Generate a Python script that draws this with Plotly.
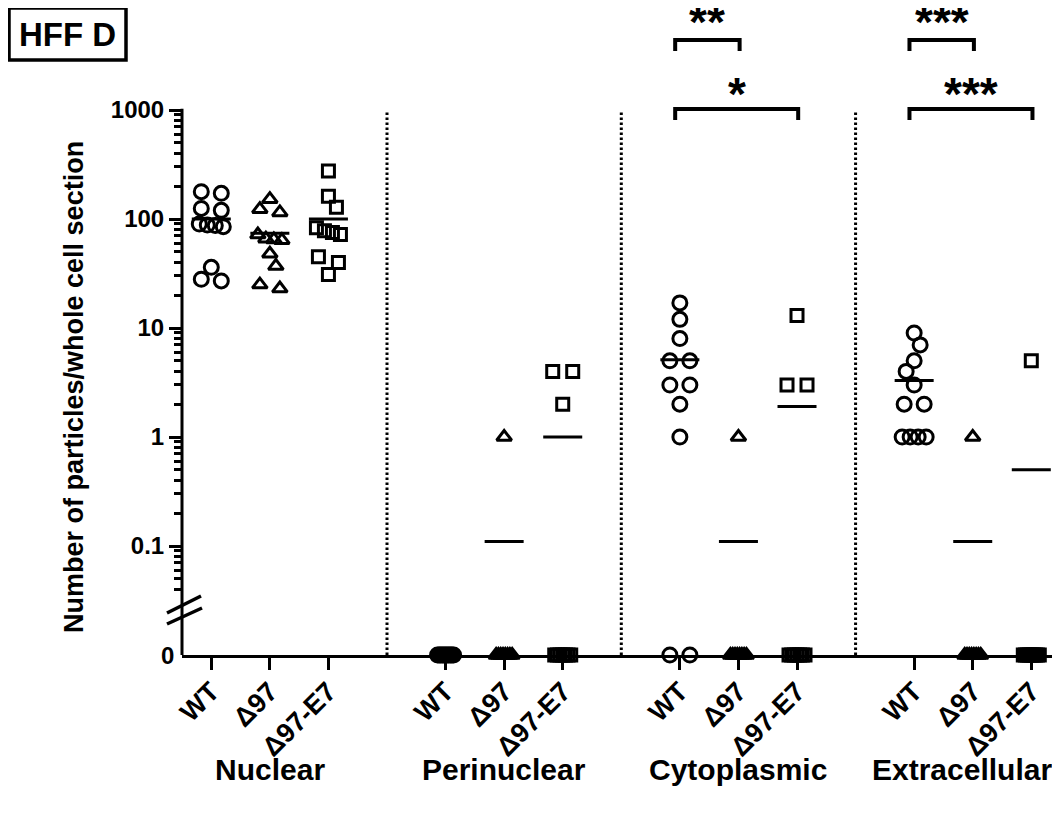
import numpy as np
import plotly.graph_objects as go

# ---------------- data ----------------
compartments = ["Nuclear", "Perinuclear", "Cytoplasmic", "Extracellular"]
strains = ["WT", "Δ97", "Δ97-E7"]

nuclear_wt = [178, 172, 125, 120, 90, 88, 87, 85, 36, 28, 27]
nuclear_d97 = [152, 123, 115, 72, 66, 65, 64, 48, 37, 25, 23]
nuclear_e7 = [275, 162, 128, 83, 78, 75, 72, 45, 40, 31]

peri_wt = [0, 0, 0, 0, 0, 0, 0, 0, 0, 0, 0]
peri_d97 = [1, 0, 0, 0, 0, 0, 0, 0, 0]
peri_e7 = [4, 4, 2, 0, 0, 0, 0, 0, 0, 0]

cyto_wt = [17, 12, 8, 5, 5, 3, 3, 2, 1, 0, 0]
cyto_d97 = [1, 0, 0, 0, 0, 0, 0, 0, 0]
cyto_e7 = [13, 3, 3, 0, 0, 0, 0, 0, 0, 0]

extra_wt = [9, 7, 5, 4, 3, 2, 2, 1, 1, 1, 1]
extra_d97 = [1, 0, 0, 0, 0, 0, 0, 0, 0]
extra_e7 = [5, 0, 0, 0, 0, 0, 0, 0, 0, 0]

mean_nuclear = [100, 74, 100]
mean_peri = [0, 0.11, 1.0]
mean_cyto = [5.1, 0.11, 1.9]
mean_extra = [3.3, 0.11, 0.5]

y_tick_values = [0.1, 1, 10, 100, 1000]
y_tick_labels = ["0.1", "1", "10", "100", "1000"]

# (compartment, strain a, strain b, label, level)
significance = [
    ("Cytoplasmic", "WT", "Δ97", "**", 1),
    ("Cytoplasmic", "WT", "Δ97-E7", "*", 2),
    ("Extracellular", "WT", "Δ97", "***", 1),
    ("Extracellular", "WT", "Δ97-E7", "***", 2),
]

groups = [
    [nuclear_wt, nuclear_d97, nuclear_e7],
    [peri_wt, peri_d97, peri_e7],
    [cyto_wt, cyto_d97, cyto_e7],
    [extra_wt, extra_d97, extra_e7],
]
means = [mean_nuclear, mean_peri, mean_cyto, mean_extra]

# ---------------- layout geometry ----------------
OFF = 8                      # page body margin in the browser
W, H = 1060 - OFF, 816 - OFF
ML = 182 - OFF
PH = 655 - OFF
MB = H - PH
PW = W - ML
XMIN, XMAX = -0.5, 14.49
DEC_PX = 109.0               # pixels per decade
YMIN = -2.0                  # zero drawn below the break
YMAX = 3 + (110 - OFF) / DEC_PX
ZERO_POS = -2.0
XPX = PW / (XMAX - XMIN)
YPX = PH / (YMAX - YMIN)
FONT = "Liberation Sans, Arial, sans-serif"


def ypos(v):
    return np.log10(v) if v > 0 else ZERO_POS


def paper_x(px):
    return (px - OFF - ML) / PW


def paper_y(py):
    return (PH - (py - OFF)) / PH


def data_y(py):
    return YMAX - (py - OFF) / YPX


def ydata_to_paper(y):
    return (y - YMIN) / (YMAX - YMIN)


def xpos(gi, si):
    return 4 * gi + si


def swarm(values, D=13.0, maxshift=14):
    """Beeswarm-like horizontal offsets (in x units)."""
    ys = [ypos(v) for v in values]
    order = sorted(range(len(values)), key=lambda i: -ys[i])
    rows = []
    for i in order:
        if rows and abs(ys[rows[-1][0]] - ys[i]) * YPX < 7:
            rows[-1].append(i)
        else:
            rows.append([i])
    offs = [0.0] * len(values)
    placed = []
    last_sign = -1
    for row in rows:
        n = len(row)
        is_zero = values[row[0]] == 0
        if n == 1:
            base = [0.0]
        elif n == 2:
            base = [-10.0, 10.0]
        else:
            spread = min(8.0 * (n - 1), 16.0 if is_zero else 24.0)
            base = [-spread / 2 + spread * k / (n - 1) for k in range(n)]
        yrow = ys[row[0]] * YPX
        chosen = None
        best = (-1, 0)
        cands = [0]
        for k in range(1, maxshift // 2 + 1):
            cands += [-last_sign * 2 * k, last_sign * 2 * k]
        for sh in cands:
            mind = 1e9
            for b in base:
                for (ppx, ppy) in placed:
                    mind = min(mind, np.hypot(b + sh - ppx, yrow - ppy))
            if mind >= D:
                chosen = sh
                break
            if mind > best[0]:
                best = (mind, sh)
        if chosen is None:
            chosen = best[1]
        if chosen != 0:
            last_sign = 1 if chosen > 0 else -1
        for i, b in zip(row, base):
            offs[i] = (b + chosen) / XPX
            placed.append((b + chosen, yrow))
    return offs


symbols = ["circle-open", "triangle-up-open", "square-open"]
sizes = [14, 13, 12]

fig = go.Figure()

# dotted separators between compartments
sep_x, sep_y = [], []
for gi in range(1, len(compartments)):
    xs = 4 * gi - 1
    sep_x += [xs, xs, None]
    sep_y += [YMIN, np.log10(1000), None]
fig.add_trace(go.Scatter(x=sep_x, y=sep_y, mode="lines",
                         line=dict(color="black", width=3, dash="2.5px,2.5px"),
                         hoverinfo="skip", showlegend=False))

# points
for gi, grp in enumerate(groups):
    for si, vals in enumerate(grp):
        offs = swarm(vals)
        xs = [xpos(gi, si) + o for o in offs]
        ys = [ypos(v) for v in vals]
        fig.add_trace(go.Scatter(
            x=xs, y=ys, mode="markers", cliponaxis=False,
            marker=dict(symbol=symbols[si], size=sizes[si], color="black",
                        line=dict(color="black", width=3)),
            showlegend=False, hoverinfo="skip"))

# mean lines
mx, my = [], []
for gi, m in enumerate(means):
    for si, v in enumerate(m):
        if v > 0:
            c = xpos(gi, si)
            mx += [c - 0.333, c + 0.333, None]
            my += [ypos(v), ypos(v), None]
fig.add_trace(go.Scatter(x=mx, y=my, mode="lines",
                         line=dict(color="black", width=3),
                         hoverinfo="skip", showlegend=False))

shapes = []
annotations = []

# y axis line (with break marks)
shapes.append(dict(type="line", xref="paper", yref="paper",
                   x0=0, x1=0, y0=0, y1=ydata_to_paper(np.log10(1000)) + 0.002,
                   line=dict(color="black", width=3)))
for (x0, y0, x1, y1) in [(167, 613, 201, 596), (167, 624, 202, 608)]:
    shapes.append(dict(type="line", xref="paper", yref="paper",
                       x0=paper_x(x0), y0=paper_y(y0), x1=paper_x(x1), y1=paper_y(y1),
                       line=dict(color="black", width=3.5)))

# significance brackets: (bar pixel row, leg end row, star text-box centre row)
level_px = {1: (40, 51, 22), 2: (109, 120, 94)}
for comp, a, b, lab, lev in significance:
    gi = compartments.index(comp)
    xa = xpos(gi, strains.index(a)) - 0.08
    xb = xpos(gi, strains.index(b)) + 0.02
    pt, pl, ptext = level_px[lev]
    yt, yl, ytext = data_y(pt), data_y(pl), data_y(ptext)
    shapes.append(dict(type="path", xref="x", yref="y",
                       path=f"M {xa},{yl} L {xa},{yt} L {xb},{yt} L {xb},{yl}",
                       line=dict(color="black", width=4)))
    annotations.append(dict(x=(xa + xb) / 2, y=ytext, xref="x", yref="y",
                            text=lab, showarrow=False, yanchor="middle",
                            font=dict(family=FONT, size=46, color="black", weight="bold")))

# group labels
label_size = 30
for gi, comp in enumerate(compartments):
    ann = dict(x=xpos(gi, 1), y=paper_y(769), xref="x", yref="paper",
               text=comp, showarrow=False, yanchor="middle", xanchor="center",
               font=dict(family=FONT, size=label_size, color="black", weight="bold"))
    if gi == len(compartments) - 1:
        ann.update(x=1.0, xref="paper", xanchor="right", xshift=-6)
    annotations.append(ann)

# zero tick label
annotations.append(dict(x=0, y=0, xref="paper", yref="paper", text="0",
                        showarrow=False, xanchor="right", yanchor="middle", xshift=-6,
                        font=dict(family=FONT, size=24, color="black", weight="bold")))

# y-axis title
annotations.append(dict(x=paper_x(74), y=paper_y(387), xref="paper", yref="paper",
                        text="Number of particles/whole cell section", textangle=-90,
                        showarrow=False, xanchor="center", yanchor="middle",
                        font=dict(family=FONT, size=27, color="black", weight="bold")))

# panel label box
shapes.append(dict(type="rect", xref="paper", yref="paper",
                   x0=paper_x(9), x1=paper_x(126), y0=paper_y(60), y1=paper_y(8),
                   line=dict(color="black", width=3.5)))
annotations.append(dict(x=paper_x(67), y=paper_y(34), xref="paper", yref="paper",
                        text="HFF D", showarrow=False, xanchor="center", yanchor="middle",
                        font=dict(family=FONT, size=33, color="black", weight="bold")))

# ticks
x_tickvals = [xpos(gi, si) for gi in range(len(compartments)) for si in range(len(strains))]
x_ticktext = [s for _ in compartments for s in strains]
minor_vals = []
for dec in [-2, -1, 0, 1, 2]:
    for k in range(2, 10):
        val = k * 10.0 ** dec
        if val >= 0.04 and val < 1000:
            minor_vals.append(np.log10(val))

fig.update_layout(
    width=W, height=H,
    margin=dict(l=ML, r=0, t=0, b=MB, pad=0),
    paper_bgcolor="white", plot_bgcolor="white",
    shapes=shapes, annotations=annotations,
    font=dict(family=FONT, color="black"),
    xaxis=dict(range=[XMIN, XMAX], showgrid=False, zeroline=False,
               showline=True, linecolor="black", linewidth=3,
               ticks="outside", ticklen=12, tickwidth=3, tickcolor="black",
               tickmode="array", tickvals=x_tickvals, ticktext=x_ticktext,
               tickangle=-45, ticklabelstandoff=-5,
               tickfont=dict(family=FONT, size=27, color="black", weight="bold")),
    yaxis=dict(range=[YMIN, YMAX], showgrid=False, zeroline=False, showline=False,
               ticks="outside", ticklen=12, tickwidth=3, tickcolor="black",
               tickmode="array", tickvals=[np.log10(v) for v in y_tick_values],
               ticktext=y_tick_labels,
               tickfont=dict(family=FONT, size=24, color="black", weight="bold"),
               minor=dict(tickmode="array", tickvals=minor_vals, ticks="outside",
                          ticklen=7, tickwidth=2.5, tickcolor="black", showgrid=False)),
)

fig.write_html("out.html")
